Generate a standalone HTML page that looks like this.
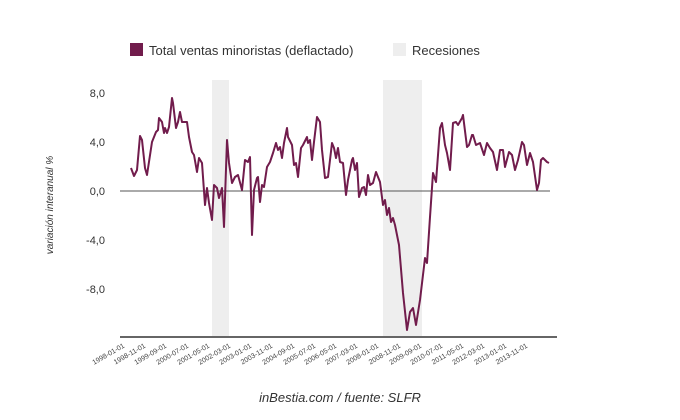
<!DOCTYPE html><html><head><style>body{margin:0;background:#fff}svg{display:block;font-family:"Liberation Sans",sans-serif}</style></head><body>
<svg width="680" height="420" viewBox="0 0 680 420">
<rect x="130" y="43" width="13" height="13" fill="#711c4c"/>
<text x="149" y="55" font-size="13" fill="#333">Total ventas minoristas (deflactado)</text>
<rect x="393" y="43" width="13" height="13" fill="#eeeeee"/>
<text x="412" y="55" font-size="13" fill="#333">Recesiones</text>
<rect x="212" y="80" width="17" height="257" fill="#eeeeee"/>
<rect x="383" y="80" width="39" height="257" fill="#eeeeee"/>
<g font-size="11" fill="#333" text-anchor="end">
<text x="105" y="97">8,0</text><text x="105" y="146">4,0</text><text x="105" y="195">0,0</text><text x="105" y="244">-4,0</text><text x="105" y="293">-8,0</text></g>
<text transform="translate(53,205) rotate(-90)" font-size="10" font-style="italic" fill="#333" text-anchor="middle">variación interanual %</text>
<line x1="120" y1="191" x2="550" y2="191" stroke="#555" stroke-width="1"/>
<line x1="120" y1="337" x2="557" y2="337" stroke="#666" stroke-width="2"/>
<polyline fill="none" stroke="#711c4c" stroke-width="2" stroke-linejoin="round" points="131,168 134,176 137,170 140,136 142,140 145,168 147,175 152,142 156,132 158,130 159,118 162,122 164,133 165,128 167,133 169,127 172,98 173,103 176,128 178,122 180,112 182,122 187,122 189,137 192,152 194,155 197,172 199,158 202,163 205,205 207,188 209,203 212,220 214,185 217,188 219,198 222,188 224,227 227,140 229,163 232,183 235,177 238,175 242,190 245,160 248,162 250,157 252,235 254,190 257,178 258,177 260,202 262,185 264,187 267,167 270,162 273,153 276,143 278,150 280,147 282,158 284,143 287,128 288,137 292,145 294,165 296,163 298,177 301,148 303,145 307,137 308,143 310,140 312,160 314,142 317,117 320,122 322,150 325,178 328,177 332,143 334,148 336,158 338,148 340,162 343,163 346,195 348,180 352,160 353,158 355,170 357,163 359,197 362,188 364,187 366,195 368,175 370,185 373,183 376,172 380,182 383,205 385,200 387,215 389,208 391,222 393,218 395,225 399,245 403,293 407,330 410,312 413,308 416,325 420,300 425,258 427,263 430,217 433,173 436,182 440,128 442,123 445,145 447,153 450,170 453,123 456,122 458,125 462,118 463,115 467,147 469,145 472,135 473,135 476,145 480,143 484,155 487,143 490,148 493,152 497,170 500,150 503,150 505,167 509,152 512,155 515,170 518,160 522,142 524,145 527,165 530,153 533,162 537,190 539,183 541,160 543,158 547,162 549,163"/>
<g font-size="7" fill="#444" text-anchor="end">
<text transform="translate(125,347) rotate(-30)">1998-01-01</text>
<text transform="translate(146,347) rotate(-30)">1998-11-01</text>
<text transform="translate(167,347) rotate(-30)">1999-09-01</text>
<text transform="translate(189,347) rotate(-30)">2000-07-01</text>
<text transform="translate(210,347) rotate(-30)">2001-05-01</text>
<text transform="translate(231,347) rotate(-30)">2002-03-01</text>
<text transform="translate(252,347) rotate(-30)">2003-01-01</text>
<text transform="translate(273,347) rotate(-30)">2003-11-01</text>
<text transform="translate(295,347) rotate(-30)">2004-09-01</text>
<text transform="translate(316,347) rotate(-30)">2005-07-01</text>
<text transform="translate(337,347) rotate(-30)">2006-05-01</text>
<text transform="translate(358,347) rotate(-30)">2007-03-01</text>
<text transform="translate(379,347) rotate(-30)">2008-01-01</text>
<text transform="translate(401,347) rotate(-30)">2008-11-01</text>
<text transform="translate(422,347) rotate(-30)">2009-09-01</text>
<text transform="translate(443,347) rotate(-30)">2010-07-01</text>
<text transform="translate(464,347) rotate(-30)">2011-05-01</text>
<text transform="translate(485,347) rotate(-30)">2012-03-01</text>
<text transform="translate(507,347) rotate(-30)">2013-01-01</text>
<text transform="translate(528,347) rotate(-30)">2013-11-01</text>
</g>
<text x="340" y="402" font-size="13" font-style="italic" fill="#333" text-anchor="middle">inBestia.com / fuente: SLFR</text>
</svg></body></html>
